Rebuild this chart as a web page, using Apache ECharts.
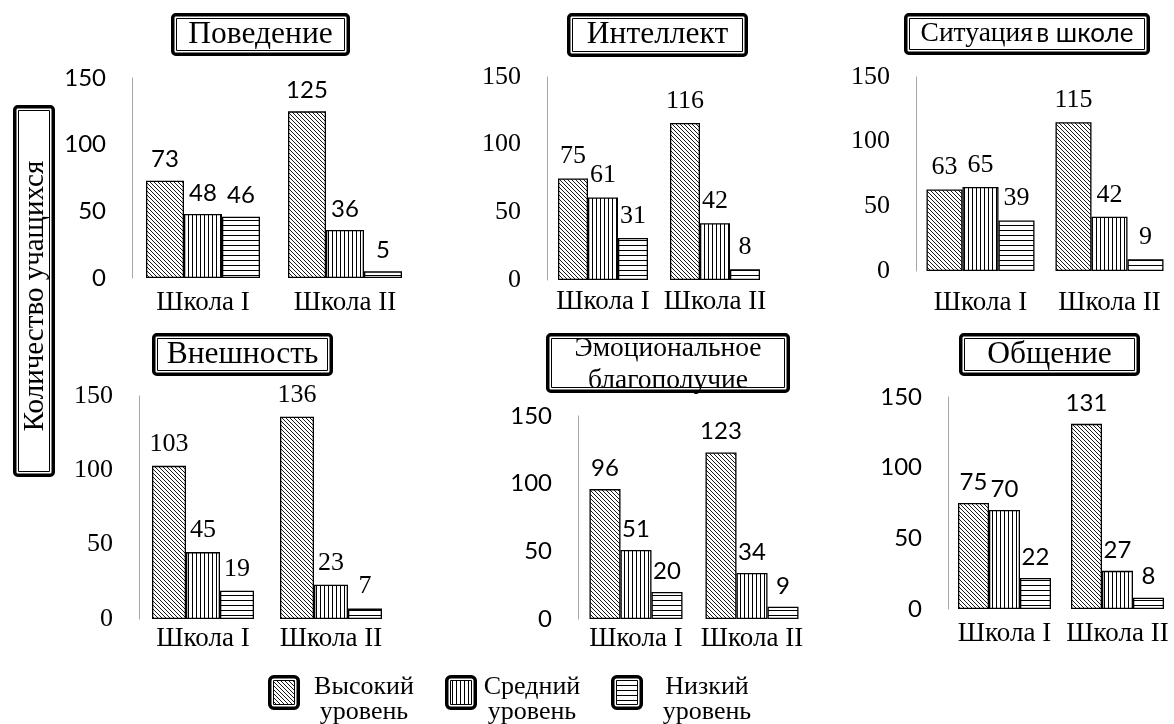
<!DOCTYPE html>
<html><head><meta charset="utf-8">
<script src="https://cdn.jsdelivr.net/npm/echarts@6/dist/echarts.min.js"></script>
<style>html,body{margin:0;padding:0;background:#fff}#c{width:1174px;height:724px}</style>
</head><body><div id="c"></div>
<script>
// ---- data ----
const categories = ['Школа I', 'Школа II'];
const panelTitles = ['Поведение', 'Интеллект', 'Ситуация в школе', 'Внешность', 'Эмоциональное благополучие', 'Общение'];
const levelNames = ['Высокий уровень', 'Средний уровень', 'Низкий уровень'];
const highLevel = [[73, 125], [75, 116], [63, 115], [103, 136], [96, 123], [75, 131]];
const midLevel  = [[48, 36], [61, 42], [65, 42], [45, 23], [51, 34], [70, 27]];
const lowLevel  = [[46, 5], [31, 8], [39, 9], [19, 7], [20, 9], [22, 8]];
const yTicks = [0, 50, 100, 150];
const yAxisTitle = 'Количество учащихся';

// ---- layout / style ----
const SERIF = '"Liberation Serif","DejaVu Serif",serif';
const SANS = 'Lato,"Liberation Sans",sans-serif';
const layout = [
  {left:132, top:78,  width:284, height:200, barW:38, sans:true,  xMargin:11},
  {left:547, top:77,  width:224, height:203, barW:30, sans:false, xMargin:8},
  {left:916, top:77,  width:274, height:194, barW:36, sans:false, xMargin:18},
  {left:139, top:396, width:256, height:223, barW:34, sans:false, xMargin:6},
  {left:578, top:416, width:232, height:203, barW:31, sans:true,  xMargin:6},
  {left:948, top:397, width:228, height:212, barW:31, sans:true,  xMargin:11}
];

function makePattern(kind) {
  const c = document.createElement('canvas');
  const ctx = c.getContext('2d');
  if (kind === 'diag') {
    c.width = 4; c.height = 4;
    ctx.fillStyle = '#fff'; ctx.fillRect(0, 0, 4, 4);
    ctx.strokeStyle = '#000'; ctx.lineWidth = 0.9;
    ctx.beginPath();
    ctx.moveTo(-1, -1); ctx.lineTo(5, 5);
    ctx.moveTo(-1, 3); ctx.lineTo(1, 5);
    ctx.moveTo(3, -1); ctx.lineTo(5, 1);
    ctx.stroke();
  } else if (kind === 'vert') {
    c.width = 4; c.height = 4;
    ctx.fillStyle = '#fff'; ctx.fillRect(0, 0, 4, 4);
    ctx.fillStyle = '#000'; ctx.fillRect(0, 0, 1, 4);
  } else {
    c.width = 4; c.height = 5;
    ctx.fillStyle = '#fff'; ctx.fillRect(0, 0, 4, 5);
    ctx.fillStyle = '#000'; ctx.fillRect(0, 0, 4, 1);
  }
  return c;
}
const patterns = [makePattern('diag'), makePattern('vert'), makePattern('horiz')];
const levelData = [highLevel, midLevel, lowLevel];

const grids = [], xAxes = [], yAxes = [], series = [];
layout.forEach((L, i) => {
  const fam = L.sans ? SANS : SERIF;
  const tickSize = L.sans ? 24 : 26;
  const lblSize = L.sans ? 24 : 26;
  grids.push({left: L.left, top: L.top, width: L.width, height: L.height});
  xAxes.push({
    type: 'category', gridIndex: i, data: categories,
    axisLine: {show: false}, axisTick: {show: false},
    axisLabel: {fontFamily: SERIF, fontSize: 27, color: '#000', margin: L.xMargin, interval: 0}
  });
  yAxes.push({
    type: 'value', gridIndex: i, min: yTicks[0], max: yTicks[yTicks.length - 1], interval: yTicks[1] - yTicks[0],
    splitLine: {show: false}, axisTick: {show: false},
    axisLine: {show: true, lineStyle: {color: '#a6a6a6', width: 1}},
    axisLabel: {fontFamily: fam, fontSize: tickSize, color: '#000', margin: 26}
  });
  levelNames.forEach((name, k) => {
    series.push({
      type: 'bar', name: name, xAxisIndex: i, yAxisIndex: i,
      data: levelData[k][i], barWidth: L.barW, barGap: '0%',
      itemStyle: {color: {image: patterns[k], repeat: 'repeat'}, borderColor: '#000', borderWidth: 1.3},
      label: {show: true, position: 'top', distance: 9, fontFamily: fam, fontSize: lblSize, color: '#000'},
      emphasis: {disabled: true}
    });
  });
});

function box(x, y, w, h) {
  return [
    {type: 'rect', z: 10, shape: {x: x + 1.75, y: y + 1.75, width: w - 3.5, height: h - 3.5, r: 3},
      style: {fill: '#fff', stroke: '#000', lineWidth: 3.5}},
    {type: 'rect', z: 10, shape: {x: x + 5.5, y: y + 5.5, width: w - 11, height: h - 11},
      style: {fill: 'none', stroke: '#000', lineWidth: 1}}
  ];
}
function txt(text, x, y, size, fam, extra) {
  return Object.assign({type: 'text', z: 11, x: x, y: y,
    style: {text: text, fontFamily: fam || SERIF, fontSize: size, fill: '#000', align: 'center', verticalAlign: 'middle'}}, extra || {});
}

const graphics = [];
// panel titles
graphics.push(...box(171, 13, 179, 43), txt(panelTitles[0], 260.5, 35, 31.5));
graphics.push(...box(567, 13, 181, 44), txt(panelTitles[1], 657.5, 35, 31.5));
graphics.push(...box(904, 13, 246, 42));
graphics.push({type: 'text', z: 11, x: 1027, y: 34, style: {
  text: '{a|' + panelTitles[2].split(' ')[0] + '} {b|' + panelTitles[2].split(' ').slice(1).join(' ') + '}',
  align: 'center', verticalAlign: 'middle',
  rich: {a: {fontFamily: SERIF, fontSize: 27.5, fill: '#000'}, b: {fontFamily: SANS, fontSize: 26, fill: '#000'}}
}});
graphics.push(...box(152, 333, 181, 43), txt(panelTitles[3], 242.5, 354.5, 31.5));
graphics.push({type: 'rect', z: 9, shape: {x: 546, y: 333, width: 244, height: 60}, style: {fill: '#fff'}});
graphics.push(txt(panelTitles[4].split(' ')[0], 668, 349, 27.5, SERIF, {z: 9}), txt(panelTitles[4].split(' ')[1], 668, 381, 27.5, SERIF, {z: 9}));
graphics.push(
  {type: 'rect', z: 10, shape: {x: 547.75, y: 334.75, width: 240.5, height: 56.5, r: 3}, style: {fill: 'none', stroke: '#000', lineWidth: 3.5}},
  {type: 'rect', z: 10, shape: {x: 551.5, y: 338.5, width: 233, height: 49}, style: {fill: 'none', stroke: '#000', lineWidth: 1}}
);
graphics.push(...box(959, 333, 181, 43), txt(panelTitles[5], 1049.5, 354.5, 31.5));
// y axis title
graphics.push(...box(13, 105, 42, 372), txt(yAxisTitle, 35, 296, 29, SERIF, {rotation: Math.PI / 2}));
// legend
const legendPos = [{ix: 268, tx: 364}, {ix: 445, tx: 532}, {ix: 611, tx: 707}];
levelNames.forEach((name, k) => {
  const p = legendPos[k];
  graphics.push(
    {type: 'rect', z: 10, shape: {x: p.ix + 1.75, y: 675 + 1.75, width: 28.5, height: 31.5, r: 4}, style: {fill: '#fff', stroke: '#000', lineWidth: 3.5}},
    {type: 'rect', z: 10, shape: {x: p.ix + 5.5, y: 675 + 5.5, width: 21, height: 24}, style: {fill: {image: patterns[k], repeat: 'repeat'}, stroke: '#000', lineWidth: 1}}
  );
  const parts = name.split(' ');
  graphics.push(txt(parts[0], p.tx, 687, 26), txt(parts[1], p.tx, 712, 26));
});

const chart = echarts.init(document.getElementById('c'), null, {renderer: 'canvas'});
chart.setOption({
  animation: false,
  backgroundColor: '#fff',
  grid: grids, xAxis: xAxes, yAxis: yAxes, series: series,
  graphic: graphics
});
</script>
</body></html>
